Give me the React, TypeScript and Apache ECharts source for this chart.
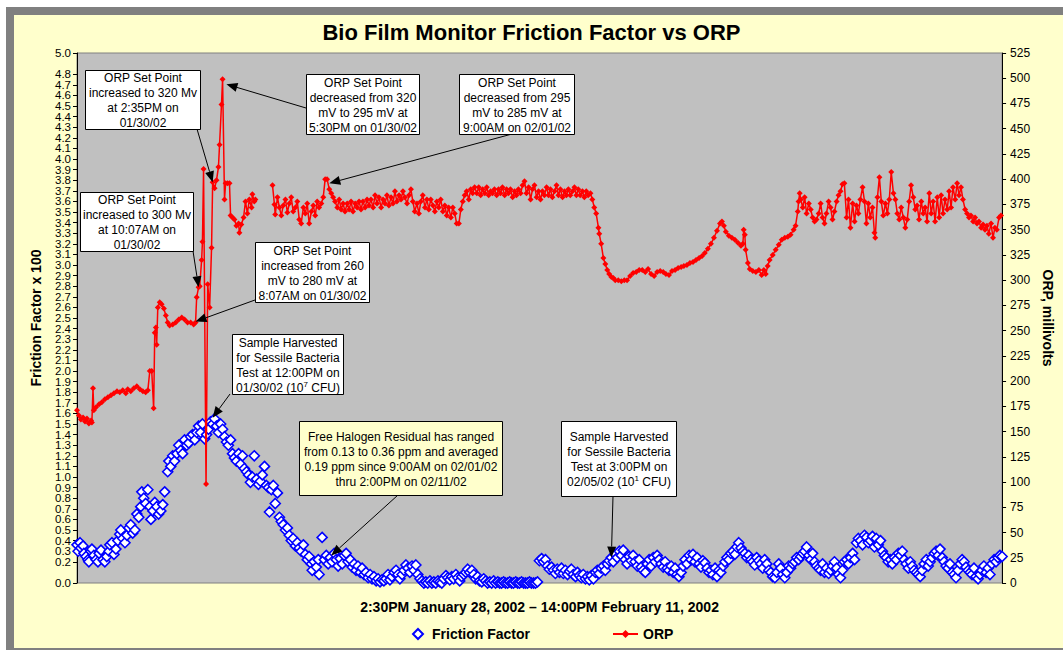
import React, { useEffect, useRef } from 'react';
import * as echarts from 'echarts';

const FONT = 'Arial, "Liberation Sans", Helvetica, sans-serif';

const TITLE = 'Bio Film Monitor Friction Factor vs ORP';
const X_NAME = '2:30PM January 28, 2002 \u2013 14:00PM February 11, 2002';
const LEFT_NAME = 'Friction Factor x 100';
const RIGHT_NAME = 'ORP, millivolts';
const SERIES_NAMES = ['Friction Factor', 'ORP'];

// x: hours since 2:30PM Jan 28, 2002
const HOURS_MIN = 0;
const HOURS_MAX = 335.5;
const FRICTION_MIN = 0;
const FRICTION_MAX = 5;
const FRICTION_STEP = 0.1;
const ORP_MIN = 0;
const ORP_MAX = 525;
const ORP_STEP = 25;

// ORP, millivolts  [hours, mV]
const orpData: (number | string)[][] = [
  [0, 171], [0.7, 166], [1.4, 162], [2.2, 164], [2.9, 160], [3.6, 163], [4.3, 158], [5.1, 161], [5.4, 159], [5.8, 193],
  [6.1, 171], [6.9, 174], [8.0, 177], [9.0, 179], [10.1, 182], [11.2, 184], [12.3, 186], [13.4, 188], [14.5, 190], [15.5, 189],
  [16.6, 191], [17.7, 188], [18.4, 192], [19.5, 190], [20.6, 193], [21.7, 195], [22.8, 192], [23.9, 190], [24.9, 189], [25.7, 191],
  [26.4, 210], [27.1, 210], [27.8, 173], [28.2, 248], [28.6, 253], [28.9, 236], [29.3, 273], [30.0, 278], [30.7, 276], [31.5, 272],
  [32.2, 265], [32.9, 258], [33.6, 255], [34.7, 256], [35.8, 258], [36.9, 261], [38.0, 263], [39.0, 261], [40.1, 258], [41.2, 258],
  [42.3, 256], [43.0, 258], [43.4, 283], [44.1, 293], [44.5, 294], [45.2, 320], [45.5, 338], [45.9, 410], [46.8, 98], [47.4, 296],
  [48.1, 273], [48.8, 332], [49.2, 397], [49.9, 391], [50.6, 399], [51.3, 412], [51.7, 434], [52.4, 474], [52.8, 499], [53.5, 380],
  [53.9, 396], [54.6, 396], [55.3, 396], [55.7, 364], [56.4, 362], [57.1, 360], [57.8, 354], [58.6, 356], [58.9, 347], [59.6, 355],
  [60.4, 362], [61.1, 378], [61.8, 366], [62.5, 380], [63.3, 372], [63.6, 385], [64.3, 378], [64.7, 380], [67.0, '-'],
  [70.9, 394], [71.6, 375], [71.9, 365], [72.7, 382], [73.4, 372], [74.1, 364], [74.8, 374], [75.6, 380], [76.3, 367], [77.0, 376],
  [77.7, 382], [78.4, 368], [79.2, 372], [79.9, 378], [80.6, 360], [81.3, 356], [82.1, 372], [82.8, 366], [83.5, 376], [84.2, 356],
  [85.0, 368], [85.7, 374], [86.4, 364], [87.1, 378], [87.8, 372], [88.6, 376], [89.3, 382], [90.0, 400], [90.7, 400], [91.5, 390],
  [92.2, 386], [92.9, 382], [93.6, 378], [94.4, 372], [95.1, 380], [95.8, 370], [96.5, 376], [97.2, 368], [98.0, 376], [98.7, 370],
  [99.4, 378], [100.1, 368], [100.9, 376], [101.6, 372], [102.3, 378], [103.0, 370], [103.7, 378], [104.5, 372], [105.2, 380], [105.9, 374],
  [106.6, 380], [107.4, 372], [108.1, 384], [108.8, 376], [109.5, 382], [110.3, 372], [111.0, 380], [111.7, 376], [112.4, 384], [113.1, 374],
  [113.9, 382], [114.6, 376], [115.3, 388], [116.0, 378], [116.8, 384], [117.5, 380], [118.2, 388], [118.9, 382], [119.7, 376], [120.4, 384],
  [121.1, 390], [121.8, 378], [122.5, 368], [123.3, 376], [124.0, 366], [124.7, 378], [125.4, 384], [126.2, 372], [126.9, 380], [127.6, 370],
  [128.3, 380], [129.1, 374], [129.8, 368], [130.5, 378], [131.2, 372], [131.9, 380], [132.7, 368], [133.4, 374], [134.1, 364], [134.8, 372],
  [135.6, 362], [136.3, 372], [137.0, 366], [137.7, 356], [138.5, 356], [139.2, 370], [139.9, 378], [140.6, 384], [141.3, 388], [142.1, 380],
  [142.8, 390], [143.5, 386], [144.2, 392], [145.0, 386], [145.7, 392], [146.4, 384], [147.1, 390], [147.9, 386], [148.6, 392], [149.3, 384],
  [150.0, 388], [150.7, 386], [151.4, 390], [152.2, 384], [152.9, 390], [153.6, 386], [154.3, 392], [155.1, 384], [155.8, 390], [156.5, 386],
  [157.2, 390], [158.0, 382], [158.7, 388], [159.4, 384], [160.1, 390], [160.9, 386], [161.6, 394], [162.3, 398], [163.0, 386], [163.8, 392],
  [164.5, 380], [165.2, 390], [165.9, 394], [166.7, 382], [167.4, 388], [168.1, 380], [168.8, 388], [169.5, 384], [170.3, 392], [171.0, 384],
  [171.7, 390], [172.4, 382], [173.2, 388], [173.9, 394], [174.6, 384], [175.3, 390], [176.1, 382], [176.8, 388], [177.5, 384], [178.2, 390],
  [178.9, 384], [179.7, 388], [180.4, 392], [181.1, 384], [181.8, 390], [182.5, 384], [183.3, 388], [184.0, 382], [184.7, 388], [185.4, 384],
  [186.2, 386], [186.9, 380], [187.6, 372], [188.3, 366], [189.1, 352], [189.4, 346], [190.1, 336], [190.9, 322], [191.6, 316], [192.3, 310],
  [193.0, 306], [193.8, 303], [194.5, 302], [195.2, 300], [196.3, 300], [197.4, 299], [198.5, 300], [199.5, 300], [200.6, 304], [201.7, 307],
  [202.8, 308], [203.9, 310], [205.0, 310], [206.1, 308], [207.1, 311], [208.2, 306], [209.3, 304], [210.4, 308], [211.5, 309], [212.6, 308],
  [213.6, 306], [214.7, 305], [215.8, 309], [216.9, 310], [218.0, 312], [219.1, 313], [220.1, 314], [221.2, 315], [222.3, 317], [223.4, 318],
  [224.5, 320], [225.6, 322], [226.7, 324], [227.7, 327], [228.8, 331], [229.9, 336], [231.0, 342], [232.1, 349], [233.2, 356], [233.9, 358],
  [234.6, 354], [235.3, 348], [236.4, 344], [237.5, 342], [238.6, 340], [239.7, 337], [240.8, 334], [241.5, 336], [241.8, 350], [242.2, 345],
  [242.5, 330], [243.3, 317], [244.0, 311], [245.1, 309], [246.2, 308], [247.3, 310], [248.3, 305], [249.1, 310], [249.8, 306], [250.5, 314],
  [251.2, 320], [252.3, 325], [253.4, 330], [254.5, 335], [255.6, 340], [256.7, 342], [257.8, 343], [258.8, 345], [259.9, 350], [260.6, 354],
  [261.4, 368], [261.7, 378], [262.1, 386], [262.5, 380], [263.2, 372], [263.9, 382], [264.6, 366], [265.4, 376], [266.1, 370], [266.8, 362],
  [267.5, 358], [268.2, 360], [269.0, 366], [269.7, 376], [270.4, 362], [271.1, 356], [271.8, 366], [272.6, 378], [273.3, 372], [274.0, 360],
  [274.7, 368], [275.5, 378], [276.2, 384], [276.9, 388], [277.6, 395], [278.3, 396], [279.1, 362], [279.8, 380], [280.5, 352], [281.3, 376],
  [282.0, 358], [282.7, 374], [283.4, 366], [284.1, 380], [284.9, 392], [285.6, 378], [286.3, 356], [287.0, 376], [287.7, 362], [288.5, 372],
  [289.2, 347], [289.5, 342], [290.3, 382], [291.0, 402], [291.7, 378], [292.4, 364], [293.2, 376], [293.9, 366], [294.6, 380], [295.3, 407],
  [296.1, 386], [296.8, 380], [297.5, 366], [298.2, 360], [298.9, 372], [299.7, 362], [300.4, 352], [301.1, 360], [301.8, 378], [302.5, 394],
  [303.3, 382], [304.0, 370], [304.7, 374], [305.4, 360], [306.2, 378], [306.9, 366], [307.6, 372], [308.3, 358], [309.1, 386], [309.8, 366],
  [310.5, 378], [311.2, 358], [312.0, 382], [312.7, 362], [313.4, 384], [314.1, 366], [314.8, 380], [315.6, 370], [316.3, 388], [317.0, 372],
  [317.7, 392], [318.5, 380], [319.2, 396], [319.9, 384], [320.6, 392], [321.3, 380], [322.1, 370], [322.8, 366], [323.5, 362], [324.2, 364],
  [325.0, 358], [325.7, 362], [326.4, 356], [327.1, 358], [327.9, 352], [328.6, 355], [329.3, 350], [330.0, 354], [330.7, 346], [331.5, 356],
  [332.2, 342], [332.9, 352], [333.6, 350], [334.4, 362], [335.1, 364],
];

// Friction factor x 100  [hours, value]
const frictionData: number[][] = [
  [0, 0.36], [0.4, 0.30], [1.1, 0.38], [1.4, 0.33], [2.2, 0.35], [2.5, 0.28], [3.3, 0.25], [4.0, 0.22], [4.3, 0.20], [5.1, 0.30],
  [5.4, 0.32], [6.1, 0.26], [6.9, 0.22], [7.6, 0.20], [8.0, 0.28], [8.7, 0.31], [9.4, 0.22], [10.1, 0.20], [10.8, 0.25], [11.6, 0.30],
  [11.9, 0.36], [12.7, 0.38], [13.4, 0.27], [14.1, 0.32], [14.8, 0.40], [15.5, 0.46], [15.9, 0.50], [16.6, 0.42], [17.4, 0.38], [18.1, 0.45],
  [18.8, 0.52], [19.5, 0.55], [20.2, 0.47], [21.0, 0.50], [21.7, 0.65], [22.4, 0.62], [23.1, 0.72], [23.5, 0.86], [24.2, 0.80], [24.9, 0.75],
  [25.7, 0.88], [26.4, 0.72], [26.8, 0.60], [27.5, 0.68], [28.2, 0.76], [28.9, 0.72], [29.6, 0.65], [30.4, 0.68], [31.1, 0.74], [31.8, 0.86],
  [32.9, 1.05], [33.3, 1.15], [34.0, 1.10], [34.7, 1.20], [35.4, 1.15], [36.2, 1.22], [36.9, 1.30], [37.6, 1.25], [38.3, 1.22], [39.0, 1.35],
  [39.8, 1.30], [40.5, 1.32], [41.2, 1.38], [41.9, 1.40], [42.7, 1.35], [43.4, 1.42], [44.1, 1.48], [44.8, 1.42], [45.5, 1.50], [46.3, 1.36],
  [47.0, 1.40], [47.7, 1.45], [48.4, 1.52], [49.2, 1.50], [49.9, 1.55], [50.6, 1.48], [51.3, 1.42], [52.1, 1.50], [52.8, 1.45], [53.5, 1.38],
  [54.2, 1.33], [54.9, 1.30], [55.7, 1.35], [56.4, 1.22], [57.1, 1.18], [57.8, 1.15], [58.6, 1.22], [59.3, 1.12], [60.0, 1.20], [60.7, 1.08],
  [61.5, 1.05], [62.2, 1.02], [62.9, 0.95], [63.6, 1.00], [64.3, 1.20], [65.1, 0.98], [65.8, 0.93], [66.5, 0.96], [67.2, 1.02], [68.0, 1.10],
  [68.7, 0.92], [69.4, 0.90], [69.8, 0.67], [70.5, 0.88], [71.2, 0.92], [71.9, 0.75], [72.7, 0.85], [73.4, 0.62], [74.1, 0.58], [74.8, 0.55],
  [75.6, 0.50], [76.3, 0.52], [77.0, 0.45], [77.7, 0.40], [78.4, 0.42], [79.2, 0.35], [79.9, 0.38], [80.6, 0.33], [81.3, 0.30], [82.1, 0.36],
  [82.8, 0.27], [83.5, 0.22], [84.2, 0.25], [85.0, 0.18], [85.3, 0.12], [86.0, 0.20], [86.8, 0.15], [87.5, 0.22], [87.8, 0.08], [88.9, 0.43],
  [89.7, 0.22], [90.4, 0.26], [91.1, 0.18], [91.8, 0.24], [92.5, 0.20], [93.3, 0.28], [94.0, 0.22], [94.7, 0.16], [95.4, 0.23], [96.2, 0.18],
  [96.9, 0.26], [97.6, 0.28], [98.3, 0.20], [99.1, 0.22], [99.8, 0.15], [100.5, 0.18], [101.2, 0.12], [101.9, 0.16], [102.7, 0.10], [103.4, 0.14],
  [104.1, 0.08], [104.8, 0.10], [105.6, 0.05], [106.3, 0.08], [107.0, 0.04], [107.7, 0.06], [108.5, 0.02], [109.2, 0.04], [109.9, 0.01], [110.6, 0.03],
  [111.3, 0.02], [112.1, 0.04], [112.8, 0.08], [113.5, 0.03], [114.2, 0.06], [115.0, 0.10], [115.7, 0.12], [116.4, 0.08], [117.1, 0.04], [117.9, 0.08],
  [118.6, 0.12], [119.3, 0.17], [120.0, 0.14], [120.7, 0.10], [121.5, 0.16], [122.2, 0.12], [122.9, 0.17], [123.6, 0.08], [124.4, 0.04], [125.1, 0.02],
  [125.8, 0.00], [126.5, 0.01], [127.2, 0.00], [128.0, 0.02], [128.7, 0.00], [129.4, 0.01], [130.1, 0.00], [130.9, 0.02], [131.6, 0.01], [132.3, 0.00],
  [133.0, 0.04], [133.8, 0.07], [134.5, 0.05], [135.2, 0.03], [135.9, 0.06], [136.6, 0.04], [137.4, 0.08], [138.1, 0.05], [138.8, 0.02], [139.5, 0.06],
  [140.3, 0.08], [141.0, 0.10], [141.7, 0.13], [142.4, 0.10], [143.2, 0.12], [143.9, 0.08], [144.6, 0.04], [145.3, 0.06], [146.0, 0.02], [146.8, 0.01],
  [147.5, 0.04], [148.2, 0.02], [148.9, 0.00], [149.7, 0.01], [150.4, 0.00], [151.1, 0.02], [151.8, 0.00], [152.6, 0.01], [153.3, 0.00], [154.0, 0.00],
  [154.7, 0.01], [155.4, 0.00], [156.2, 0.00], [156.9, 0.01], [157.6, 0.00], [158.3, 0.00], [159.1, 0.01], [159.8, 0.00], [160.5, 0.00], [161.2, 0.01],
  [162.0, 0.00], [162.7, 0.00], [163.4, 0.00], [164.1, 0.01], [164.8, 0.00], [165.6, 0.00], [166.3, 0.00], [167.0, 0.01], [167.7, 0.21], [168.5, 0.23],
  [169.2, 0.20], [169.9, 0.22], [170.6, 0.16], [171.3, 0.13], [172.1, 0.15], [172.8, 0.12], [173.5, 0.09], [174.2, 0.13], [175.0, 0.10], [175.7, 0.14],
  [176.4, 0.09], [177.1, 0.12], [177.9, 0.08], [178.6, 0.11], [179.3, 0.13], [180.0, 0.08], [180.8, 0.06], [181.5, 0.10], [182.2, 0.07], [182.9, 0.05],
  [183.6, 0.08], [184.4, 0.04], [185.1, 0.06], [185.8, 0.03], [186.5, 0.07], [187.3, 0.04], [188.0, 0.10], [188.7, 0.12], [189.4, 0.09], [190.1, 0.14],
  [190.9, 0.16], [191.6, 0.12], [192.3, 0.18], [193.0, 0.21], [193.8, 0.24], [194.5, 0.20], [195.2, 0.27], [195.9, 0.24], [196.7, 0.30], [197.4, 0.26],
  [198.1, 0.31], [198.8, 0.22], [199.5, 0.18], [200.3, 0.25], [201.0, 0.21], [201.7, 0.26], [202.4, 0.20], [203.2, 0.16], [203.9, 0.22], [204.6, 0.15],
  [205.3, 0.12], [206.1, 0.10], [206.8, 0.18], [207.5, 0.22], [208.2, 0.16], [209.0, 0.24], [209.7, 0.20], [210.4, 0.26], [211.1, 0.22], [211.8, 0.18],
  [212.6, 0.15], [213.3, 0.20], [214.0, 0.14], [214.7, 0.12], [215.5, 0.16], [216.2, 0.10], [216.9, 0.14], [217.6, 0.08], [218.3, 0.06], [219.1, 0.10],
  [219.8, 0.16], [220.5, 0.22], [221.2, 0.18], [222.0, 0.26], [222.7, 0.22], [223.4, 0.27], [224.1, 0.20], [224.9, 0.24], [225.6, 0.18], [226.3, 0.15],
  [227.0, 0.21], [227.7, 0.19], [228.5, 0.14], [229.2, 0.10], [229.9, 0.12], [230.6, 0.08], [231.4, 0.14], [232.1, 0.06], [232.8, 0.12], [233.5, 0.10],
  [234.3, 0.16], [235.0, 0.20], [235.7, 0.24], [236.4, 0.22], [237.1, 0.28], [237.9, 0.30], [238.6, 0.27], [239.3, 0.34], [240.0, 0.38], [240.8, 0.33],
  [241.5, 0.30], [242.2, 0.28], [242.9, 0.24], [243.6, 0.26], [244.4, 0.22], [245.1, 0.20], [245.8, 0.17], [246.5, 0.24], [247.3, 0.21], [248.0, 0.18],
  [248.7, 0.14], [249.4, 0.22], [250.2, 0.18], [250.9, 0.12], [251.6, 0.10], [252.3, 0.06], [253.1, 0.05], [253.8, 0.10], [254.5, 0.18], [255.2, 0.14],
  [255.9, 0.08], [256.7, 0.05], [257.4, 0.10], [258.1, 0.16], [258.8, 0.14], [259.6, 0.18], [260.3, 0.20], [261.0, 0.24], [261.7, 0.22], [262.5, 0.25],
  [263.2, 0.28], [263.9, 0.30], [264.6, 0.34], [265.4, 0.26], [266.1, 0.22], [266.8, 0.28], [267.5, 0.20], [268.2, 0.16], [269.0, 0.14], [269.7, 0.12],
  [270.4, 0.18], [271.1, 0.10], [271.8, 0.14], [272.6, 0.09], [273.3, 0.12], [274.0, 0.16], [274.7, 0.20], [275.5, 0.14], [276.2, 0.08], [276.9, 0.05],
  [277.6, 0.12], [278.3, 0.20], [279.1, 0.22], [279.8, 0.18], [280.5, 0.24], [281.3, 0.28], [282.0, 0.22], [282.7, 0.38], [283.4, 0.42], [284.1, 0.40],
  [284.9, 0.36], [285.6, 0.45], [286.3, 0.43], [287.0, 0.38], [287.7, 0.40], [288.5, 0.44], [289.2, 0.34], [289.9, 0.42], [290.6, 0.36], [291.4, 0.40],
  [292.1, 0.30], [292.8, 0.26], [293.5, 0.24], [294.2, 0.20], [295.0, 0.22], [295.7, 0.18], [296.4, 0.24], [297.1, 0.22], [297.9, 0.28], [298.6, 0.26],
  [299.3, 0.30], [300.0, 0.22], [300.7, 0.18], [301.5, 0.14], [302.2, 0.20], [302.9, 0.16], [303.6, 0.12], [304.4, 0.10], [305.1, 0.08], [305.8, 0.06],
  [306.5, 0.12], [307.2, 0.18], [308.0, 0.22], [308.7, 0.16], [309.4, 0.20], [310.1, 0.24], [310.9, 0.28], [311.6, 0.30], [312.3, 0.26], [313.0, 0.32],
  [313.8, 0.24], [314.5, 0.20], [315.2, 0.16], [315.9, 0.14], [316.6, 0.18], [317.4, 0.10], [318.1, 0.08], [318.8, 0.05], [319.5, 0.12], [320.3, 0.18],
  [321.0, 0.22], [321.7, 0.20], [322.4, 0.15], [323.2, 0.12], [323.9, 0.10], [324.6, 0.08], [325.3, 0.14], [326.0, 0.06], [326.8, 0.04], [327.5, 0.08],
  [328.2, 0.12], [328.9, 0.16], [329.7, 0.10], [330.4, 0.14], [331.1, 0.08], [331.8, 0.18], [332.6, 0.22], [333.3, 0.20], [334.0, 0.24], [334.7, 0.26],
  [335.5, 0.25],
];

type Note = {
  lines: string[];
  box: [number, number, number, number];
  from: [number, number];
  tip: [number, number];
  seriesIndex: number;
  fill: string;
};

const NOTES: Note[] = [
  { lines: ['ORP Set Point', 'increased to 320 Mv', 'at 2:35PM on', '01/30/02'], box: [85, 70, 115, 59], from: [197, 129], tip: [49.2, 397], seriesIndex: 1, fill: '#FFFFFF' },
  { lines: ['ORP Set Point', 'increased to 300 Mv', 'at 10:07AM on', '01/30/02'], box: [80, 192, 113, 59], from: [193, 251], tip: [44.1, 293], seriesIndex: 1, fill: '#FFFFFF' },
  { lines: ['ORP Set Point', 'decreased from 320', 'mV to 295 mV at', '5:30PM on 01/30/02'], box: [306, 74, 113, 60], from: [306, 108], tip: [54.2, 494], seriesIndex: 1, fill: '#FFFFFF' },
  { lines: ['ORP Set Point', 'decreased from 295', 'mV to 285 mV at', '9:00AM on 02/01/02'], box: [459, 74, 115, 60], from: [512, 134], tip: [91.5, 396], seriesIndex: 1, fill: '#FFFFFF' },
  { lines: ['ORP Set Point', 'increased from 260', 'mV to 280 mV at', '8:07AM on 01/30/02'], box: [255, 242, 114, 60], from: [255, 300], tip: [43.0, 259], seriesIndex: 1, fill: '#FFFFFF' },
  { lines: ['Sample Harvested', 'for Sessile Bacteria', 'Test at 12:00PM on', '01/30/02 (10{s|7} CFU)'], box: [232, 334, 111, 60], from: [230, 394], tip: [49.2, 1.56], seriesIndex: 0, fill: '#FFFFFF' },
  { lines: ['Free Halogen Residual has ranged', 'from 0.13 to 0.36 ppm and averaged', '0.19 ppm since 9:00AM on 02/01/02', 'thru 2:00PM on 02/11/02'], box: [299, 421, 203, 74], from: [398, 495], tip: [92.2, 0.26], seriesIndex: 0, fill: '#FFFFCC' },
  { lines: ['Sample Harvested', 'for Sessile Bacteria', 'Test at 3:00PM on', '02/05/02 (10{s|1} CFU)'], box: [561, 421, 115, 75], from: [613, 496], tip: [193.8, 0.24], seriesIndex: 0, fill: '#FFFFFF' },
];

function arrowEls(id: string, sx: number, sy: number, tx: number, ty: number) {
  const dx = tx - sx;
  const dy = ty - sy;
  const len = Math.hypot(dx, dy) || 1;
  const ux = dx / len;
  const uy = dy / len;
  const L = 11;
  const W = 4.5;
  const bx = tx - ux * L;
  const by = ty - uy * L;
  const nx = -uy;
  const ny = ux;
  return [
    { type: 'line', id: id + '_l', z: 100, shape: { x1: sx, y1: sy, x2: bx, y2: by }, style: { stroke: '#000', lineWidth: 1 } },
    { type: 'polygon', id: id + '_h', z: 100, shape: { points: [[tx, ty], [bx + nx * W, by + ny * W], [bx - nx * W, by - ny * W]] }, style: { fill: '#000' } },
  ];
}

const LEGEND_TEXT = { fontFamily: FONT, fontSize: 14, fontWeight: 'bold', color: '#000' };

export default function App() {
  const ref = useRef<HTMLDivElement>(null);

  useEffect(() => {
    if (!ref.current) return;
    document.body.style.margin = '0';
    document.body.style.overflow = 'hidden';
    document.body.style.background = '#FFFFCC';
    document.documentElement.style.overflow = 'hidden';
    const chart = echarts.init(ref.current, undefined, { renderer: 'svg' });

    const option: any = {
      animation: false,
      backgroundColor: '#FFFFCC',
      textStyle: { fontFamily: FONT },
      title: {
        text: TITLE,
        left: 'center',
        top: 16,
        textStyle: { fontFamily: FONT, fontSize: 22, fontWeight: 'bold', color: '#000' },
      },
      legend: [
        {
          data: [{ name: SERIES_NAMES[0], icon: 'diamond' }],
          left: 407,
          top: 622,
          itemWidth: 10,
          itemHeight: 10,
          textStyle: { ...LEGEND_TEXT, padding: [0, 0, 0, 4] },
        },
        {
          data: [{ name: SERIES_NAMES[1] }],
          left: 607,
          top: 622,
          itemWidth: 25,
          itemHeight: 10,
          textStyle: LEGEND_TEXT,
        },
      ],
      grid: {
        show: true,
        left: 77,
        right: 58,
        top: 53,
        bottom: 67,
        backgroundColor: '#C0C0C0',
        borderColor: '#808080',
        borderWidth: 1,
        containLabel: false,
      },
      xAxis: {
        type: 'value',
        min: HOURS_MIN,
        max: HOURS_MAX,
        name: X_NAME,
        nameLocation: 'middle',
        nameGap: 17,
        nameTextStyle: { fontFamily: FONT, fontSize: 14, fontWeight: 'bold', color: '#000' },
        axisLine: { show: false },
        axisTick: { show: false },
        axisLabel: { show: false },
        splitLine: { show: false },
      },
      yAxis: [
        {
          type: 'value',
          position: 'left',
          min: FRICTION_MIN,
          max: FRICTION_MAX,
          interval: FRICTION_STEP,
          name: LEFT_NAME,
          nameLocation: 'middle',
          nameRotate: 90,
          nameGap: 34,
          nameTextStyle: { fontFamily: FONT, fontSize: 14, fontWeight: 'bold', color: '#000' },
          axisLine: { show: true, lineStyle: { color: '#000', width: 1 } },
          axisTick: { show: true, length: 4, lineStyle: { color: '#000' } },
          axisLabel: {
            fontFamily: FONT,
            fontSize: 11.5,
            lineHeight: 10,
            color: '#000',
            margin: 6,
            showMinLabel: true,
            showMaxLabel: true,
            hideOverlap: false,
            formatter: (v: number) => v.toFixed(1),
          },
          splitLine: { show: false },
        },
        {
          type: 'value',
          position: 'right',
          min: ORP_MIN,
          max: ORP_MAX,
          interval: ORP_STEP,
          name: RIGHT_NAME,
          nameLocation: 'middle',
          nameRotate: -90,
          nameGap: 34,
          nameTextStyle: { fontFamily: FONT, fontSize: 14, fontWeight: 'bold', color: '#000' },
          axisLine: { show: true, lineStyle: { color: '#000', width: 1 } },
          axisTick: { show: true, length: 4, lineStyle: { color: '#000' } },
          axisLabel: { fontFamily: FONT, fontSize: 12, color: '#000', margin: 8, showMinLabel: true, showMaxLabel: true },
          splitLine: { show: false },
        },
      ],
      series: [
        {
          name: SERIES_NAMES[0],
          type: 'scatter',
          xAxisIndex: 0,
          yAxisIndex: 0,
          symbol: 'diamond',
          symbolSize: 10,
          clip: true,
          itemStyle: { color: '#FFFFFF', borderColor: '#0000FF', borderWidth: 1.6, opacity: 1 },
          data: frictionData,
          z: 2,
        },
        {
          name: SERIES_NAMES[1],
          type: 'line',
          xAxisIndex: 0,
          yAxisIndex: 1,
          symbol: 'diamond',
          symbolSize: 6,
          showSymbol: true,
          connectNulls: false,
          itemStyle: { color: '#FF0000' },
          lineStyle: { color: '#FF0000', width: 1.5 },
          data: orpData,
          z: 3,
        },
      ],
    };

    chart.setOption(option);

    // Outer frame: white margin, then grey border on top, left and bottom
    const graphics: any[] = [
      { type: 'rect', id: 'whiteTop', z: -10, silent: true, shape: { x: 0, y: 0, width: 1063, height: 7 }, style: { fill: '#FFFFFF' } },
      { type: 'rect', id: 'whiteLeft', z: -10, silent: true, shape: { x: 0, y: 0, width: 6, height: 650 }, style: { fill: '#FFFFFF' } },
      { type: 'rect', id: 'greyTop', z: -9, silent: true, shape: { x: 6, y: 7, width: 1057, height: 8 }, style: { fill: '#808080' } },
      { type: 'rect', id: 'greyLeft', z: -9, silent: true, shape: { x: 6, y: 7, width: 8, height: 643 }, style: { fill: '#808080' } },
      { type: 'rect', id: 'greyBottom', z: -9, silent: true, shape: { x: 6, y: 648, width: 1057, height: 2 }, style: { fill: '#808080' } },
    ];

    NOTES.forEach((n, i) => {
      const [bx, by, bw, bh] = n.box;
      const tipPx = chart.convertToPixel({ seriesIndex: n.seriesIndex }, n.tip) as number[];
      graphics.push(...arrowEls('arrow' + i, n.from[0], n.from[1], tipPx[0], tipPx[1]));
      graphics.push({
        type: 'rect',
        id: 'box' + i,
        z: 101,
        shape: { x: bx + 0.5, y: by + 0.5, width: bw, height: bh },
        style: { fill: n.fill, stroke: '#000', lineWidth: 1 },
      });
      graphics.push({
        type: 'text',
        id: 'txt' + i,
        z: 102,
        x: bx + bw / 2 + 0.5,
        y: by + bh / 2 + 1,
        style: {
          text: n.lines.join('\n'),
          fontFamily: FONT,
          fontSize: 12,
          lineHeight: 15,
          fill: '#000',
          align: 'center',
          verticalAlign: 'middle',
          rich: {
            s: { fontFamily: FONT, fontSize: 8, verticalAlign: 'top', lineHeight: 15, fill: '#000' },
          },
        },
      });
    });

    chart.setOption({ graphic: graphics });

    return () => {
      chart.dispose();
    };
  }, []);

  return (
    <div
      ref={ref}
      style={{ position: 'absolute', left: 0, top: 0, width: 1063, height: 650 }}
    />
  );
}
